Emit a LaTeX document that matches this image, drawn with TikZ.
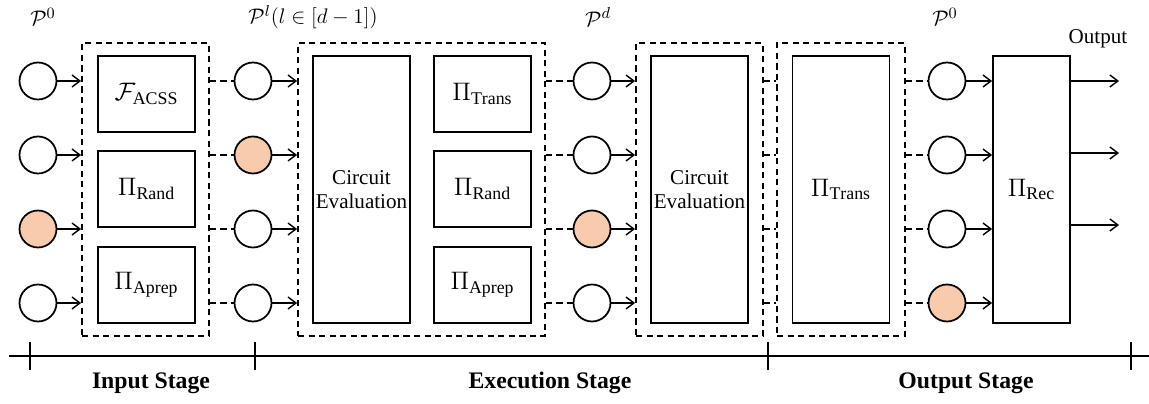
\documentclass[tikz,border=0pt]{standalone}
\usepackage{fontspec}
\setmainfont{Liberation Serif}
\usetikzlibrary{arrows.meta}
\definecolor{corruptfill}{HTML}{F8CBAD}
\tikzset{
  party/.style={circle, draw, line width=1pt, minimum size=0.74cm, inner sep=0pt},
  corrupt/.style={party, fill=corruptfill},
  proto/.style={draw, line width=1pt, minimum width=1.94cm, minimum height=1.52cm,
    inner sep=0pt, font=\fontsize{14.5}{17}\selectfont},
  tallproto/.style={proto, minimum height=5.34cm, align=center,
    font=\fontsize{12}{14}\selectfont},
  stagebox/.style={draw, line width=1pt, dash pattern=on 3.5pt off 2.5pt,
    minimum width=2.54cm, minimum height=5.86cm},
  link/.style={line width=0.8pt, -{Straight Barb[length=1.6mm,width=2.4mm]}},
  dlink/.style={line width=0.8pt, dash pattern=on 3.5pt off 2.5pt},
  lbl/.style={font=\fontsize{13}{15}\selectfont},
  stagelbl/.style={font=\fontsize{13.5}{16}\selectfont\bfseries}
}
\begin{document}
\begin{tikzpicture}[x=0.02cm, y=-0.02cm]
  \useasboundingbox (0,0) rectangle (1149,404);
  % dashed stage boxes
  \node[stagebox] (g1) at (145.5,189.5) {};
  \node[stagebox, minimum width=4.94cm] (g2) at (421.5,189.5) {};
  \node[stagebox] (g3) at (699.5,189.5) {};
  \node[stagebox, minimum width=2.56cm] (g4) at (841,189.5) {};
  % protocols
  \node[proto] (acss) at (146.5,94) {$\mathcal{F}_{\mathrm{ACSS}}$};
  \node[proto] (rand1) at (146.5,189) {$\Pi_{\mathrm{Rand}}$};
  \node[proto] (aprep1) at (146.5,285) {$\Pi_{\mathrm{Aprep}}$};
  \node[tallproto] (eval1) at (361.5,189.5) {Circuit\\Evaluation};
  \node[proto] (trans1) at (482.5,94) {$\Pi_{\mathrm{Trans}}$};
  \node[proto] (rand2) at (482.5,189) {$\Pi_{\mathrm{Rand}}$};
  \node[proto] (aprep2) at (482.5,285) {$\Pi_{\mathrm{Aprep}}$};
  \node[tallproto] (eval2) at (699.5,189.5) {Circuit\\Evaluation};
  \node[tallproto, font=\fontsize{14.5}{17}\selectfont] (trans2) at (841,189.5) {$\Pi_{\mathrm{Trans}}$};
  \node[tallproto, minimum width=1.54cm, font=\fontsize{14.5}{17}\selectfont] (rec) at (1031.5,189.5) {$\Pi_{\mathrm{Rec}}$};
  % parties
  \foreach \r/\y/\sa/\sb/\sc/\sd in {1/81/party/party/party/party,
      2/155/party/corrupt/party/party, 3/229/corrupt/party/corrupt/party,
      4/303/party/party/party/corrupt}
  {
    \node[\sa] (a\r) at (38,\y) {};
    \node[\sb] (b\r) at (253,\y) {};
    \node[\sc] (c\r) at (592,\y) {};
    \node[\sd] (d\r) at (947,\y) {};
  }
  % connectors
  \foreach \r in {1,...,4}
  {
    \draw[link] (a\r) -- (a\r -| g1.west);
    \draw[dlink] (b\r -| g1.east) -- (b\r);
    \draw[link] (b\r) -- (b\r -| g2.west);
    \draw[dlink] (c\r -| g2.east) -- (c\r);
    \draw[link] (c\r) -- (c\r -| g3.west);
    \draw[dlink] (c\r -| g3.east) -- (c\r -| g4.west);
    \draw[dlink] (d\r -| g4.east) -- (d\r);
    \draw[link] (d\r) -- (d\r -| rec.west);
  }
  \foreach \r/\y in {1/81,2/153,3/225}
  {
    \coordinate (o\r) at (1119,\y);
    \draw[link] (o\r -| rec.east) -- (o\r);
  }
  % labels
  \node[lbl] (pa) at (43,17) {$\mathcal{P}^0$};
  \node[lbl] (pb) at (313,17) {$\mathcal{P}^l(l\in[d-1])$};
  \node[lbl] (pc) at (598,17) {$\mathcal{P}^d$};
  \node[lbl] (pd) at (945,17) {$\mathcal{P}^0$};
  \node[font=\fontsize{12}{14}\selectfont] (outlbl) at (1098,39) {Output};
  % time line
  \draw[line width=0.8pt] (9,356) -- (1149,356);
  \foreach \x in {30,255,768,1131}
    \draw[line width=0.8pt] (\x,342) -- (\x,370);
  \node[stagelbl] (s1) at (151,383) {Input Stage};
  \node[stagelbl] (s2) at (550,383) {Execution Stage};
  \node[stagelbl] (s3) at (966,383) {Output Stage};
\end{tikzpicture}
\end{document}
